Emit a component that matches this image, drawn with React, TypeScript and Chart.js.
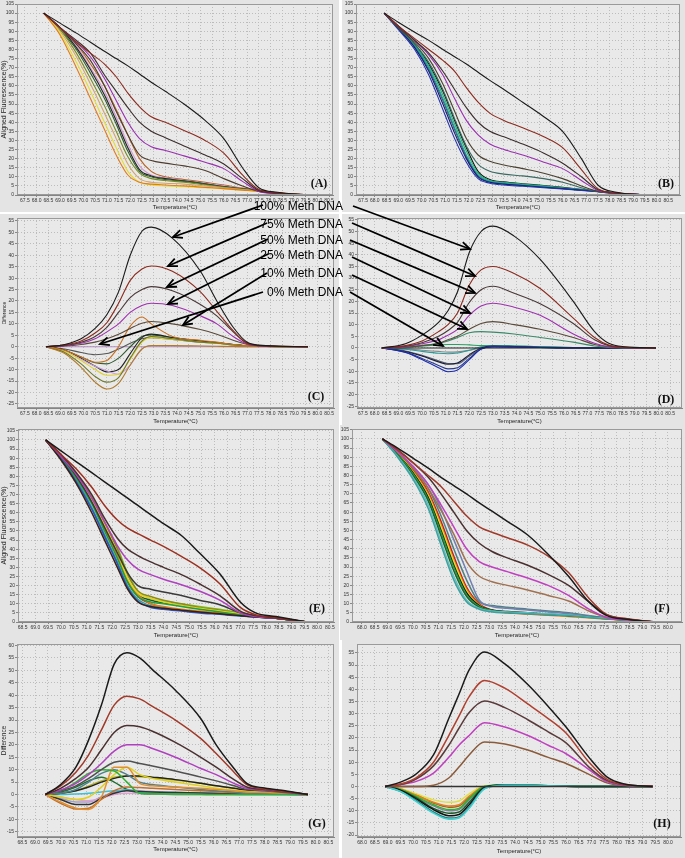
import React, { useEffect, useRef } from "react";
import { Chart, registerables } from "chart.js";

Chart.register(...registerables);

const FONT = "'Liberation Sans', Arial, Helvetica, sans-serif";
const SERIF = "'Liberation Serif', 'Times New Roman', serif";
const PANEL_BG = "#e4e4e4";
const PLOT_BG = "#e9e9e9";
const GRID = "#bcbcbc";

// ---------- tick labels ----------
const X_TICKS_675 = [67.5, 68.0, 68.5, 69.0, 69.5, 70.0, 70.5, 71.0, 71.5, 72.0, 72.5, 73.0, 73.5, 74.0, 74.5, 75.0, 75.5, 76.0, 76.5, 77.0, 77.5, 78.0, 78.5, 79.0, 79.5, 80.0, 80.5];
const X_TICKS_685 = [68.5, 69.0, 69.5, 70.0, 70.5, 71.0, 71.5, 72.0, 72.5, 73.0, 73.5, 74.0, 74.5, 75.0, 75.5, 76.0, 76.5, 77.0, 77.5, 78.0, 78.5, 79.0, 79.5, 80.0, 80.5];
const X_TICKS_680 = [68.0, 68.5, 69.0, 69.5, 70.0, 70.5, 71.0, 71.5, 72.0, 72.5, 73.0, 73.5, 74.0, 74.5, 75.0, 75.5, 76.0, 76.5, 77.0, 77.5, 78.0, 78.5, 79.0, 79.5, 80.0];
const Y_TICKS_FLUOR = [0, 5, 10, 15, 20, 25, 30, 35, 40, 45, 50, 55, 60, 65, 70, 75, 80, 85, 90, 95, 100, 105];
const Y_TICKS_DIFF_CD = [-25, -20, -15, -10, -5, 0, 5, 10, 15, 20, 25, 30, 35, 40, 45, 50, 55];
const Y_TICKS_DIFF_G = [-15, -10, -5, 0, 5, 10, 15, 20, 25, 30, 35, 40, 45, 50, 55, 60];
const Y_TICKS_DIFF_H = [-20, -15, -10, -5, 0, 5, 10, 15, 20, 25, 30, 35, 40, 45, 50, 55];

// ---------- panel A (aligned fluorescence) ----------
const A_X = [68.3, 69.0, 69.7, 70.3, 70.9, 71.4, 71.9, 72.4, 72.9, 73.5, 74.3, 75.2, 76.0, 76.8, 77.5, 78.3, 79.6];
const A_M100 = [100, 94.5, 89, 84, 79, 75, 71, 66.5, 62, 57, 50, 41, 31, 15, 4, 1.5, 0];
const A_M75 = [100, 92, 84, 78, 72, 65, 56, 48.5, 43, 40, 35.5, 30, 23, 11, 3, 1.2, 0];
const A_M50 = [100, 92, 85, 78, 66, 57, 48, 40, 35, 31.5, 27, 22, 17, 9, 2.5, 1, 0];
const A_M25 = [100, 92, 84, 76, 64, 52, 40, 31, 26.5, 24.5, 21.5, 18, 14.5, 7.5, 2, 0.8, 0];
const A_M10 = [100, 92, 83, 74, 60, 46, 33, 22, 19, 17.5, 16, 13.5, 9, 5, 2, 0.8, 0];
const A_S1 = [100, 88, 70, 53, 36, 22, 11, 7, 6, 5.5, 5, 4.2, 3.5, 2.7, 2, 1, 0];
const A_S2 = [100, 89, 73, 57, 40, 26, 13, 7, 5.5, 5, 4.5, 4, 3.3, 2.6, 2, 1, 0];
const A_S3 = [100, 90, 76, 61, 45, 31, 17, 9, 7, 6.5, 6, 5, 4, 3, 2.2, 1, 0];
const A_S4 = [100, 91, 78, 64, 49, 35, 21, 12, 9, 8, 7, 5.5, 4.3, 3.2, 2.3, 1, 0];
const A_S5 = [100, 91, 80, 67, 53, 39, 24, 13, 10, 8.5, 7.5, 6, 4.5, 3.4, 2.4, 1.1, 0];
const A_S6 = [100, 92, 81, 69, 55, 41, 26, 14, 10.5, 9, 7.8, 6.2, 4.6, 3.4, 2.4, 1.1, 0];
const A_S7 = [100, 92, 82, 70, 57, 43, 28, 16, 11, 9.5, 8, 6.5, 5, 3.5, 2.5, 1.1, 0];
const A_S8 = [100, 92, 83, 72, 60, 47, 33, 20, 13, 10, 8.5, 7, 5.5, 3.8, 2.6, 1.2, 0];

// ---------- panel B ----------
const B_X = [68.4, 69.0, 69.7, 70.3, 70.9, 71.4, 71.9, 72.4, 72.9, 73.5, 74.3, 75.2, 76.0, 76.8, 77.5, 78.3, 79.8];
const B_M100 = [100, 95, 89.5, 85, 80, 76, 72, 67.5, 63, 58, 51, 43, 35, 20, 5.5, 1.5, 0];
const B_M75 = [100, 93, 86, 80, 74, 68, 59, 51, 45, 41, 37, 32, 26, 14, 3.5, 1.2, 0];
const B_M50 = [100, 93, 85, 78, 68, 58, 48, 40, 35, 32, 28, 23, 17.5, 10, 3, 1, 0];
const B_M25 = [100, 93, 85, 77, 66, 53, 41, 33, 28, 25, 22, 18, 14.5, 8, 2.5, 1, 0];
const B_M10 = [100, 92, 84, 75, 61, 46, 31, 22, 18.5, 16.5, 14.5, 12, 9, 5, 2, 0.8, 0];
const B_M5 = [100, 92, 83, 73, 58, 42, 27, 17, 13, 11.5, 10.5, 9, 7, 4, 1.8, 0.7, 0];
const B_S1 = [100, 91, 80, 66, 47, 31, 18, 9, 6.5, 5.5, 4.8, 4, 3.3, 2.5, 1.8, 1, 0];
const B_S2 = [100, 91.5, 81, 68, 50, 34, 20, 10, 7, 6, 5.2, 4.3, 3.5, 2.7, 1.9, 1, 0];
const B_S3 = [100, 92, 82, 70, 53, 37, 22, 11, 7.5, 6.5, 5.5, 4.6, 3.7, 2.8, 2, 1, 0];
const B_S4 = [100, 92, 82.5, 71, 55, 39, 24, 12, 8, 7, 6, 5, 4, 3, 2, 1, 0];
const B_S5 = [100, 92.5, 83, 72, 57, 41, 26, 13, 8.5, 7.2, 6.2, 5.2, 4.2, 3.1, 2.1, 1, 0];
const B_S6 = [100, 92, 81.5, 69, 52, 36, 21, 10.5, 7.2, 6.2, 5.3, 4.4, 3.6, 2.7, 1.9, 1, 0];

// ---------- panel C (difference) ----------
const C_X = [68.4, 69.2, 69.9, 70.5, 71.0, 71.5, 72.0, 72.5, 72.9, 73.8, 75.0, 75.7, 76.4, 77.0, 77.8, 79.6];
const C_M100 = [0, 1, 3.5, 8, 14, 24, 40, 50.5, 52.3, 47.5, 33, 20, 8.5, 2, 0.5, 0];
const C_M75 = [0, 0.8, 2.5, 6, 10.5, 19, 29, 34, 35.3, 33, 24, 15.5, 7, 1.5, 0.4, 0];
const C_M50 = [0, 0.6, 2, 4.5, 8.5, 15, 21.5, 25, 26.3, 24.5, 18.5, 13.5, 6.5, 1.5, 0.3, 0];
const C_M25 = [0, 0.5, 1.5, 3.5, 6.5, 10, 15, 18, 19, 18, 13.5, 10, 4.5, 1.2, 0.3, 0];
const C_M10 = [0, 0.3, 1, 2, 3.5, 5.5, 8, 10.3, 11, 10, 7.5, 5.5, 2.8, 1, 0.3, 0];
const C_O = [0, -1.5, -4.5, -6.8, -6, 0, 9, 13, 10, 4.5, 2.8, 2, 1, 0.5, 0.2, 0];
const C_N1 = [0, -3, -9, -15.5, -18.5, -16, -8, -1, 0.5, 0.5, 0.3, 0.2, 0.1, 0, 0, 0];
const C_N2 = [0, -2.5, -7.5, -13, -15.5, -13.5, -5, 2.5, 4.5, 3.5, 2, 1.5, 0.8, 0.3, 0.1, 0];
const C_N3 = [0, -2, -6, -10, -12.5, -12, -5.5, 2, 4, 3.2, 2, 1.4, 0.8, 0.3, 0.1, 0];
const C_N4 = [0, -2, -5.5, -8.5, -10.5, -12, -8, -1, 0.5, 0.4, 0.2, 0.1, 0, 0, 0, 0];
const C_N5 = [0, -1.5, -5, -8.5, -11, -10, -3, 4, 5.5, 4, 2.5, 1.8, 1, 0.4, 0.1, 0];
const C_N6 = [0, -1.5, -4.5, -7, -7.5, -5, 0, 4.5, 5.2, 4, 2.5, 1.8, 1, 0.4, 0.1, 0];
const C_N7 = [0, -1, -2.5, -3.5, -3, -1, 1.5, 3.5, 4, 3.2, 2, 1.5, 0.8, 0.3, 0.1, 0];
const C_ZERO = [0, 0, 0, 0, 0, 0, 0, 0, 0, 0, 0, 0, 0, 0, 0, 0];

// ---------- panel D ----------
const D_X = [68.3, 69.3, 70.0, 70.7, 71.1, 71.5, 72.0, 72.5, 73.0, 73.9, 75.0, 76.4, 77.3, 77.9, 78.6, 79.9];
const D_M100 = [0, 1.8, 5.5, 11, 16, 24, 41, 50, 52.3, 48, 38, 20, 7, 2, 0.5, 0];
const D_M75 = [0, 1, 3, 7, 10, 15, 27, 33.5, 35, 32, 25.5, 12.8, 4.5, 1.2, 0.3, 0];
const D_M50 = [0, 0.7, 2.2, 5, 7.5, 11, 19.5, 25, 26.5, 23.5, 19, 10.5, 3.5, 1, 0.2, 0];
const D_M25 = [0, 0.5, 1.8, 3.5, 5.5, 8, 14, 18, 19.2, 17.5, 14, 6, 2, 0.5, 0.1, 0];
const D_M10 = [0, 0.3, 1, 2, 3.5, 5, 8, 10.5, 11.3, 10, 8, 4.5, 1.5, 0.5, 0.1, 0];
const D_T = [0, 0.3, 1, 2, 3, 4.5, 6.5, 7, 6.8, 6, 4.5, 2.5, 0.8, 0.2, 0, 0];
const D_N1 = [0, -2, -5, -8.5, -10.2, -9.5, -5, -0.5, 0.5, 0.4, 0.2, 0, 0, 0, 0, 0];
const D_N2 = [0, -1.8, -4.5, -7.5, -9, -8.5, -4.5, -0.5, 0.5, 0.4, 0.2, 0, 0, 0, 0, 0];
const D_N3 = [0, -1.5, -3.5, -6, -7, -6.5, -3, 0, 0.8, 0.6, 0.3, 0.1, 0, 0, 0, 0];
const D_N4 = [0, -1.3, -3.2, -5.5, -6.7, -6.8, -3.5, -0.5, 0.5, 0.4, 0.2, 0.1, 0, 0, 0, 0];
const D_N5 = [0, -0.6, -1.5, -2.3, -2.5, -2.2, -1, 0.5, 1, 0.8, 0.5, 0.2, 0.1, 0, 0, 0];
const D_N6 = [0, 0.3, 0.8, 1.3, 1.5, 1.5, 1.3, 1, 1, 0.8, 0.5, 0.2, 0.1, 0, 0, 0];
const D_N7 = [0, -0.4, -1, -1.5, -1.8, -1.7, -1, 0, 0.5, 0.5, 0.3, 0.1, 0, 0, 0, 0];
const D_ZERO = [0, 0, 0, 0, 0, 0, 0, 0, 0, 0, 0, 0, 0, 0, 0, 0];

// ---------- panel E ----------
const E_X = [69.4, 70.0, 70.6, 71.2, 71.7, 72.2, 72.6, 73.0, 73.5, 74.0, 74.7, 75.4, 76.2, 77.0, 77.6, 78.4, 79.6];
const E_M100 = [100, 94, 88, 82, 77, 72, 68, 64, 59, 54, 47.5, 38, 26.5, 11, 5, 3, 0];
const E_M75 = [100, 92, 84, 74, 64, 56, 51.5, 48.5, 45, 41.5, 36, 30, 21, 8, 4, 2.5, 0];
const E_M50 = [100, 92, 82, 70, 57, 46, 40, 36.5, 33, 30, 26, 21, 14.5, 6, 3.5, 2.2, 0];
const E_M25 = [100, 91, 81, 68, 55, 42, 34, 29, 26, 23.5, 20.5, 17, 12, 5, 3, 2, 0];
const E_M10 = [100, 91, 80, 66, 52, 38, 27, 20, 18, 16.5, 14.5, 12, 9.5, 5, 3, 2, 0];
const E_S1 = [100, 89, 76, 60, 45, 30, 18, 11, 8.5, 7.5, 6.5, 5.5, 4.5, 3.5, 2.8, 2, 0];
const E_S2 = [100, 89.5, 77, 62, 47, 32, 19, 11.5, 8, 7, 6, 5, 4.2, 3.3, 2.7, 2, 0];
const E_S3 = [100, 90, 79, 65, 50, 35, 22, 14, 11, 10, 8.5, 7, 5.5, 4, 3, 2, 0];
const E_S4 = [100, 90.5, 80, 67, 53, 38, 24, 16, 13, 11, 9, 7.5, 6, 4.5, 3.2, 2, 0];
const E_S5 = [100, 91, 81, 68, 54, 40, 26, 17, 14, 12, 10, 8, 6.5, 4.8, 3.4, 2.1, 0];
const E_S6 = [100, 90, 79, 66, 51, 36, 23, 15, 10, 8.5, 7, 6, 5, 3.8, 3, 2, 0];
const E_S7 = [100, 89.5, 78, 63, 48, 33, 20, 12.5, 9, 7.8, 6.5, 5.5, 4.5, 3.5, 2.8, 2, 0];
const E_S8 = [100, 90.5, 80, 66, 52, 37, 23, 15, 12, 10.5, 9, 7.5, 6, 4.5, 3.2, 2, 0];
const E_S9 = [100, 90, 80, 66, 51, 36, 22, 14, 10, 8, 6.5, 5.5, 4.8, 3.8, 3, 2.2, 0];
const E_S10 = [100, 91, 81, 69, 55, 41, 27, 17, 13, 11.5, 10, 8.5, 7, 5, 3.5, 2.2, 0];

// ---------- panel F ----------
const F_X = [68.8, 69.4, 70.0, 70.6, 71.1, 71.6, 72.1, 72.6, 73.1, 73.7, 74.5, 75.3, 76.1, 76.9, 77.6, 78.4, 79.5];
const F_M100 = [100, 95, 89.5, 84, 79, 74.5, 70, 65, 60.5, 55, 47.5, 37, 25, 11, 3.5, 1.5, 0];
const F_M75 = [100, 94, 87, 80, 74, 66, 58, 52, 49, 46, 42, 36, 27, 13, 4, 1.8, 0];
const F_M50 = [100, 94, 87, 79, 70, 60, 50, 43, 38.5, 35, 31, 26, 20, 11, 4, 1.6, 0];
const F_M25 = [100, 93, 85, 75, 64, 52, 40, 33, 30, 27.5, 24, 20, 14.5, 7, 2.5, 1.2, 0];
const F_M10 = [100, 93, 84, 73, 61, 48, 33, 25, 22, 20, 17.5, 14.5, 11.5, 6, 2.5, 1.2, 0];
const F_S1 = [100, 90, 78, 62, 42, 23, 11, 7, 5.5, 5, 4.5, 4, 3.5, 2.5, 1.8, 1, 0];
const F_S2 = [100, 90.5, 79, 64, 44, 25, 12, 7.5, 6, 5.5, 5, 4.5, 3.8, 2.8, 2, 1, 0];
const F_S3 = [100, 91, 80, 66, 47, 28, 14, 8, 6, 5.2, 4.6, 4, 3.4, 2.6, 1.8, 1, 0];
const F_S4 = [100, 91.5, 81, 67, 49, 30, 15, 8.5, 6.3, 5.5, 4.8, 4.2, 3.5, 2.7, 1.9, 1, 0];
const F_S5 = [100, 91.5, 81.5, 68, 50, 31, 16, 9, 6.5, 5.8, 5, 4.3, 3.6, 2.8, 2, 1, 0];
const F_S6 = [100, 92, 82, 69, 52, 33, 17, 9, 6.2, 5.4, 4.6, 4, 3.3, 2.5, 1.8, 1, 0];
const F_S7 = [100, 92, 82.5, 70, 53, 34, 18, 9.5, 6, 5, 4.3, 3.7, 3, 2.3, 1.6, 0.9, 0];
const F_S8 = [100, 92, 83, 71, 55, 36, 19, 10, 6.5, 5.5, 4.8, 4, 3.3, 2.5, 1.8, 1, 0];
const F_S9 = [100, 93, 85, 75, 62, 45, 28, 12, 8.5, 7.5, 6.5, 5.5, 4.5, 3.3, 2.2, 1.1, 0];
const F_S10 = [100, 92.5, 84, 73, 58, 40, 23, 11, 9, 8, 7, 6, 5, 3.5, 2.3, 1.2, 0];

// ---------- panel G ----------
const G_X = [69.4, 70.0, 70.6, 71.1, 71.6, 72.1, 72.6, 73.1, 73.6, 74.5, 75.5, 76.1, 76.8, 77.3, 78.0, 78.8, 79.7];
const G_M100 = [0, 4, 11, 22, 36, 52.5, 57.1, 55, 50.3, 42, 30.5, 20, 10.5, 4.5, 2.6, 1.5, 0];
const G_M75 = [0, 3.5, 9, 16, 26, 36, 39.6, 38.5, 35.5, 30, 22.5, 16.5, 9, 4, 2.2, 1.2, 0];
const G_M50 = [0, 2.5, 6.5, 11, 18, 25, 27.8, 27.3, 25.5, 21, 15, 11, 6, 3, 2, 1.1, 0];
const G_M25 = [0, 1.8, 4.5, 8, 12.5, 17.5, 20, 20, 18.5, 15, 10.5, 8, 4.5, 2.5, 1.8, 1, 0];
const G_M10 = [0, 1.5, 3.5, 6.5, 10, 13, 13.5, 12.5, 11.5, 9.5, 7, 5.5, 3.5, 2, 1.5, 0.8, 0];
const G_S1 = [0, 1.5, 5, 8.5, 10, 9.5, 5, 0.5, 0.3, 0.2, 0.1, 0, 0, 0, 0, 0, 0];
const G_S2 = [0, -3, -5.5, -6, -1, 11, 11, 4.5, 3.5, 3, 2.5, 2, 1.5, 1, 0.8, 0.4, 0];
const G_S3 = [0, -1, -2, -1, 3, 8, 11, 8, 6.5, 5, 3.5, 2.5, 1.8, 1.2, 1, 0.5, 0];
const G_S4 = [0, 0.5, 2, 5, 8.5, 10, 8, 5, 4, 3, 2, 1.5, 1, 0.6, 0.4, 0.2, 0];
const G_S5 = [0, 0.5, 1.5, 3, 5, 6.5, 7.5, 7.5, 7, 6, 4.5, 3.5, 2.5, 1.8, 1.3, 0.8, 0];
const G_S6 = [0, 0.5, 1.5, 3.5, 5.5, 7, 7.5, 7.2, 6.8, 5.8, 4.5, 3.5, 2.5, 1.8, 1.3, 0.8, 0];
const G_S7 = [0, -3.5, -5.8, -5.5, -2, 1.5, 3, 2.8, 2.5, 2, 1.5, 1.2, 0.8, 0.5, 0.3, 0.2, 0];
const G_S8 = [0, -2, -4, -4, -1.5, 0.5, 1.5, 1.2, 1, 0.8, 0.6, 0.5, 0.4, 0.3, 0.2, 0.1, 0];
const G_S9 = [0, 0, 0.2, 0.5, 1, 1.5, 1.8, 0.8, 0.5, 0.4, 0.3, 0.2, 0.1, 0, 0, 0, 0];
const G_S10 = [0, -1, -2, -2.5, -1.5, 0, 0.5, 0.4, 0.3, 0.2, 0.1, 0, 0, 0, 0, 0, 0];
const G_S11 = [0, 1, 3, 5.5, 7, 5, 2, 0.5, 0.2, 0, 0, 0, 0, 0, 0, 0, 0];
const G_S12 = [0, -1.5, -3, -3, -1, 1, 2, 1.5, 1.2, 0.9, 0.6, 0.4, 0.3, 0.2, 0.1, 0, 0];

// ---------- panel H ----------
const H_X = [68.9, 69.5, 70.1, 70.8, 71.4, 71.8, 72.2, 72.8, 73.6, 74.5, 75.3, 76.0, 76.9, 77.6, 78.3, 79.4];
const H_M100 = [0, 1.8, 5, 13, 28, 38, 48, 55.4, 50.5, 42, 33, 24.5, 12, 4, 1, 0];
const H_M75 = [0, 1, 3.5, 10, 21, 29, 37, 43.7, 40.5, 34, 28, 22, 10, 3, 0.8, 0];
const H_M50 = [0, 0.8, 3, 8.5, 17, 24, 30.5, 35.2, 32.5, 27.5, 22.5, 18, 8, 2.5, 0.7, 0];
const H_M25 = [0, 0.8, 2, 5.5, 12, 17, 21, 26.3, 24.5, 21, 17, 13.5, 7, 2, 0.5, 0];
const H_M10 = [0, 0, 0, 0.5, 3.5, 8, 13, 18.3, 17.5, 15, 12, 9.5, 5, 1.5, 0.4, 0];
const H_ZERO = [0, 0, 0, 0, 0, 0, 0, 0, 0, 0, 0, 0, 0, 0, 0, 0];
const H_N1 = [0, -2, -6, -11, -13.5, -13, -9, -1, 0.5, 0.5, 0.3, 0.1, 0, 0, 0, 0];
const H_N2 = [0, -2, -5.5, -10.5, -13, -12.5, -8.5, -0.8, 0.5, 0.5, 0.3, 0.1, 0, 0, 0, 0];
const H_N3 = [0, -1.5, -5, -9.5, -12, -11.5, -7.5, -0.5, 0.6, 0.5, 0.3, 0.1, 0, 0, 0, 0];
const H_N4 = [0, -1.5, -4.5, -9, -11, -10.5, -6.5, -0.3, 0.6, 0.5, 0.3, 0.1, 0, 0, 0, 0];
const H_N5 = [0, -1.2, -4, -7.5, -9.5, -9, -5, 0, 0.7, 0.5, 0.3, 0.1, 0, 0, 0, 0];
const H_N6 = [0, -1.3, -4.2, -8, -10, -9.5, -5.5, -0.2, 0.5, 0.4, 0.3, 0.1, 0, 0, 0, 0];
const H_N7 = [0, -1, -3.5, -6.5, -8, -7.5, -4, 0, 0.5, 0.4, 0.3, 0.1, 0, 0, 0, 0];
const H_N8 = [0, -0.8, -3, -5.5, -6.5, -6, -3, 0.2, 0.5, 0.4, 0.2, 0.1, 0, 0, 0, 0];
const H_N9 = [0, -1, -3.2, -6.8, -8.5, -8, -4.5, -0.2, 0.4, 0.3, 0.2, 0.1, 0, 0, 0, 0];

// ---------- annotation labels ----------
const METH_LABELS = ["100% Meth DNA", "75% Meth DNA", "50% Meth DNA", "25% Meth DNA", "10% Meth DNA", "0% Meth DNA"];

type Series = { values: number[]; color: string };
type PanelSpec = {
  box: { left: number; top: number; width: number; height: number };
  plot: { l: number; t: number; r: number; b: number };
  xs: number[];
  series: Series[];
  xMin: number; xMax: number; yMin: number; yMax: number;
  xTicks: number[]; yTicks: number[];
  yTitle: string | null; yTitleSize: number; yTitlePad: number;
  xTitle: string | null; xTitlePad: number;
  tag: string; tagX: number; tagY: number;
  lw: number;
};

const s = (values: number[], color: string): Series => ({ values, color });

const PANELS: PanelSpec[] = [
  {
    box: { left: 0, top: 0, width: 339, height: 212 }, plot: { l: 17, t: 2, r: 333, b: 195 },
    xs: A_X,
    series: [s(A_M100, "#1a1a1a"), s(A_M75, "#8b2a1e"), s(A_M50, "#3a2c2c"), s(A_M25, "#9a2fb0"), s(A_M10, "#4d3b2e"),
      s(A_S1, "#e07b20"), s(A_S2, "#e6dc30"), s(A_S3, "#d2a468"), s(A_S4, "#7a8a22"), s(A_S5, "#2f5f2f"), s(A_S6, "#222222"), s(A_S7, "#d49ad0"), s(A_S8, "#b8642a")],
    xMin: 67.16, xMax: 80.67, yMin: 0, yMax: 105, xTicks: X_TICKS_675, yTicks: Y_TICKS_FLUOR,
    yTitle: "Aligned Fluorescence(%)", yTitleSize: 7, yTitlePad: 0, xTitle: "Temperature(°C)", xTitlePad: 1.4,
    tag: "(A)", tagX: 319, tagY: 183, lw: 1.1,
  },
  {
    box: { left: 342, top: 0, width: 343, height: 212 }, plot: { l: 14, t: 2, r: 338, b: 195 },
    xs: B_X,
    series: [s(B_M100, "#1a1a1a"), s(B_M75, "#8b2a1e"), s(B_M50, "#3a2c2c"), s(B_M25, "#9a2fb0"), s(B_M10, "#4a4030"), s(B_M5, "#3a6a60"),
      s(B_S1, "#2233aa"), s(B_S2, "#1a1a70"), s(B_S3, "#1a9a9a"), s(B_S4, "#20b070"), s(B_S5, "#111111"), s(B_S6, "#405070")],
    xMin: 67.2, xMax: 81.0, yMin: 0, yMax: 105, xTicks: X_TICKS_675, yTicks: Y_TICKS_FLUOR,
    yTitle: null, yTitleSize: 7, yTitlePad: 0, xTitle: "Temperature(°C)", xTitlePad: 1.4,
    tag: "(B)", tagX: 666, tagY: 183, lw: 1.1,
  },
  {
    box: { left: 0, top: 214, width: 339, height: 211 }, plot: { l: 17, t: 2, r: 334, b: 194 },
    xs: C_X,
    series: [s(C_M100, "#1a1a1a"), s(C_M75, "#8b2a1e"), s(C_M50, "#4a3838"), s(C_M25, "#a030b0"), s(C_M10, "#5a4a3a"), s(C_O, "#c87020"),
      s(C_N1, "#b07a28"), s(C_N2, "#6f7a2a"), s(C_N3, "#e0d030"), s(C_N4, "#c8a0d8"), s(C_N5, "#222222"), s(C_N6, "#2f5a30"), s(C_N7, "#555555"), s(C_ZERO, "#b48cc0")],
    xMin: 67.16, xMax: 80.71, yMin: -26.8, yMax: 56.3, xTicks: X_TICKS_675, yTicks: Y_TICKS_DIFF_CD,
    yTitle: "Difference", yTitleSize: 5, yTitlePad: 2, xTitle: "Temperature(°C)", xTitlePad: 0,
    tag: "(C)", tagX: 316, tagY: 396, lw: 1.1,
  },
  {
    box: { left: 342, top: 214, width: 343, height: 211 }, plot: { l: 15, t: 1, r: 340, b: 194 },
    xs: D_X,
    series: [s(D_M100, "#1a1a1a"), s(D_M75, "#8b2a1e"), s(D_M50, "#4a3838"), s(D_M25, "#a030b0"), s(D_M10, "#5a4a3a"), s(D_T, "#3a8a6a"),
      s(D_ZERO, "#222222"), s(D_N1, "#1a2ab0"), s(D_N2, "#2a3a8a"), s(D_N3, "#1a1a3a"), s(D_N4, "#556070"), s(D_N5, "#2a9a9a"), s(D_N6, "#2aa060"), s(D_N7, "#888888")],
    xMin: 67.25, xMax: 81.0, yMin: -25.8, yMax: 55.8, xTicks: X_TICKS_675, yTicks: Y_TICKS_DIFF_CD,
    yTitle: null, yTitleSize: 5, yTitlePad: 0, xTitle: "Temperature(°C)", xTitlePad: 0,
    tag: "(D)", tagX: 666, tagY: 399, lw: 1.1,
  },
  {
    box: { left: 0, top: 425, width: 339, height: 215 }, plot: { l: 18, t: 3, r: 334, b: 197 },
    xs: E_X,
    series: [s(E_M100, "#1a1a1a"), s(E_M75, "#9b3020"), s(E_M50, "#4a3030"), s(E_M25, "#b040c0"), s(E_M10, "#3a3a3a"),
      s(E_S1, "#3a2010"), s(E_S2, "#3050c0"), s(E_S3, "#20a040"), s(E_S4, "#e8d020"), s(E_S5, "#8a8a20"), s(E_S6, "#e08020"), s(E_S7, "#30a0a0"), s(E_S8, "#1a5a2a"), s(E_S9, "#d02020"), s(E_S10, "#80c020")],
    xMin: 68.32, xMax: 80.66, yMin: 0, yMax: 106, xTicks: X_TICKS_685, yTicks: Y_TICKS_FLUOR,
    yTitle: "Aligned Fluorescence(%)", yTitleSize: 7, yTitlePad: 0, xTitle: "Temperature(°C)", xTitlePad: 1.4,
    tag: "(E)", tagX: 317, tagY: 608, lw: 1.5,
  },
  {
    box: { left: 340, top: 425, width: 345, height: 215 }, plot: { l: 12, t: 2, r: 342, b: 197 },
    xs: F_X,
    series: [s(F_M100, "#1a1a1a"), s(F_M75, "#a03a2a"), s(F_M50, "#4a3030"), s(F_M25, "#c040c0"), s(F_M10, "#a07050"),
      s(F_S1, "#40a0a0"), s(F_S2, "#60c0c0"), s(F_S3, "#206030"), s(F_S4, "#20a040"), s(F_S5, "#111111"), s(F_S6, "#e8e020"), s(F_S7, "#e07020"), s(F_S8, "#c02020"), s(F_S9, "#7080b0"), s(F_S10, "#508080")],
    xMin: 67.61, xMax: 80.55, yMin: 0, yMax: 105.4, xTicks: X_TICKS_680, yTicks: Y_TICKS_FLUOR,
    yTitle: null, yTitleSize: 7, yTitlePad: 0, xTitle: "Temperature(°C)", xTitlePad: 1.4,
    tag: "(F)", tagX: 662, tagY: 608, lw: 1.5,
  },
  {
    box: { left: 0, top: 640, width: 339, height: 218 }, plot: { l: 17, t: 2, r: 334, b: 197 },
    xs: G_X,
    series: [s(G_M100, "#1a1a1a"), s(G_M75, "#a03a2a"), s(G_M50, "#4a3030"), s(G_M25, "#b040c0"), s(G_M10, "#505050"),
      s(G_S1, "#30b030"), s(G_S2, "#e09030"), s(G_S3, "#e0d020"), s(G_S4, "#508090"), s(G_S5, "#222222"), s(G_S6, "#b0b020"), s(G_S7, "#c07030"), s(G_S8, "#333333"), s(G_S9, "#40c0d0"), s(G_S10, "#e0a0d0"), s(G_S11, "#207030"), s(G_S12, "#a0a0d0")],
    xMin: 68.29, xMax: 80.72, yMin: -17.1, yMax: 60.6, xTicks: X_TICKS_685, yTicks: Y_TICKS_DIFF_G,
    yTitle: "Difference", yTitleSize: 6.5, yTitlePad: 0, xTitle: "Temperature(°C)", xTitlePad: 5.4,
    tag: "(G)", tagX: 317, tagY: 823, lw: 1.5,
  },
  {
    box: { left: 342, top: 640, width: 343, height: 218 }, plot: { l: 15, t: 2, r: 339, b: 197 },
    xs: H_X,
    series: [s(H_M100, "#1a1a1a"), s(H_M75, "#b04030"), s(H_M50, "#5a3a3a"), s(H_M25, "#c040c0"), s(H_M10, "#8a5a3a"), s(H_ZERO, "#333333"),
      s(H_N1, "#40d0d0"), s(H_N2, "#208080"), s(H_N3, "#111111"), s(H_N4, "#1a5a2a"), s(H_N5, "#30b030"), s(H_N6, "#8080a0"), s(H_N7, "#e08020"), s(H_N8, "#e0e040"), s(H_N9, "#a06020")],
    xMin: 67.8, xMax: 80.51, yMin: -20.8, yMax: 58.7, xTicks: X_TICKS_680, yTicks: Y_TICKS_DIFF_H,
    yTitle: null, yTitleSize: 6, yTitlePad: 0, xTitle: "Temperature(°C)", xTitlePad: 3.4,
    tag: "(H)", tagX: 662, tagY: 823, lw: 1.5,
  },
];

// arrow annotation geometry (page pixels): label anchor y, left target, right target
const LABEL_Y = [206, 223.5, 239.5, 254.5, 272.5, 292];
const LEFT_FROM = [[263, 205], [267, 223], [268, 239], [268, 254], [267, 273], [263, 292]];
const LEFT_TO = [[173, 237], [168, 266], [167, 287], [168, 304], [183, 325], [100, 344]];
const RIGHT_FROM = [[353, 206], [352, 223], [350, 240], [352, 257], [352, 275], [350, 292]];
const RIGHT_TO = [[470, 249], [475, 276], [475, 293], [470, 313], [467, 329], [443, 346]];

const framePlugin = {
  id: "frame",
  beforeDraw(chart: any) {
    const { ctx, chartArea: a } = chart;
    ctx.save();
    ctx.fillStyle = PLOT_BG;
    ctx.fillRect(a.left, a.top, a.right - a.left, a.bottom - a.top);
    ctx.restore();
  },
  afterDraw(chart: any) {
    const { ctx, chartArea: a } = chart;
    ctx.save();
    ctx.strokeStyle = "#9a9a9a";
    ctx.lineWidth = 1;
    ctx.strokeRect(Math.round(a.left) + 0.5, Math.round(a.top) + 0.5, Math.round(a.right - a.left) - 1, Math.round(a.bottom - a.top) - 1);
    ctx.restore();
  },
};

function buildConfig(p: PanelSpec): any {
  return {
    type: "line",
    data: {
      datasets: p.series.map((sr, k) => ({
        label: "s" + k,
        data: p.xs.map((x, i) => ({ x, y: sr.values[i] })),
        borderColor: sr.color,
        backgroundColor: sr.color,
        borderWidth: p.lw,
        pointRadius: 0,
        fill: false,
        cubicInterpolationMode: "monotone",
      })),
    },
    options: {
      animation: false,
      responsive: false,
      devicePixelRatio: 1,
      events: [],
      layout: { autoPadding: false, padding: { left: 0, top: p.plot.t, right: p.box.width - p.plot.r, bottom: 0 } },
      plugins: { legend: { display: false }, tooltip: { enabled: false }, title: { display: false } },
      scales: {
        x: {
          type: "linear",
          min: p.xMin,
          max: p.xMax,
          afterFit: (sc: any) => { sc.height = p.box.height - p.plot.b; },
          afterBuildTicks: (sc: any) => { sc.ticks = p.xTicks.map((v) => ({ value: v })); },
          ticks: {
            autoSkip: false, maxRotation: 0, minRotation: 0, padding: 1, color: "#333",
            font: { size: 5, family: FONT },
            callback: (v: any) => Number(v).toFixed(1),
          },
          grid: { color: GRID, lineWidth: 1, drawTicks: true, tickLength: 2, tickColor: "#888" },
          border: { display: true, color: "#858585", dash: [1, 2] },
          title: p.xTitle
            ? { display: true, text: p.xTitle, color: "#222", font: { size: 6, family: FONT }, padding: { top: 0, bottom: p.xTitlePad } }
            : { display: false },
        },
        y: {
          type: "linear",
          min: p.yMin,
          max: p.yMax,
          afterFit: (sc: any) => { sc.width = p.plot.l; },
          afterBuildTicks: (sc: any) => { sc.ticks = p.yTicks.map((v) => ({ value: v })); },
          ticks: { padding: 1, color: "#333", font: { size: 5, family: FONT }, callback: (v: any) => String(v) },
          grid: { color: GRID, lineWidth: 1, drawTicks: true, tickLength: 2, tickColor: "#888" },
          border: { display: true, color: "#858585", dash: [1, 2] },
          title: p.yTitle
            ? { display: true, text: p.yTitle, color: "#222", font: { size: p.yTitleSize, family: FONT }, padding: { top: p.yTitlePad, bottom: 0 } }
            : { display: false },
        },
      },
    },
    plugins: [framePlugin],
  };
}

function arrowHead(from: number[], to: number[]): string {
  const dx = to[0] - from[0];
  const dy = to[1] - from[1];
  const len = Math.sqrt(dx * dx + dy * dy);
  const ux = dx / len;
  const uy = dy / len;
  const L = 10;
  const ang = 0.42;
  const c = Math.cos(ang);
  const sn = Math.sin(ang);
  const b1x = to[0] - L * (ux * c - uy * sn);
  const b1y = to[1] - L * (uy * c + ux * sn);
  const b2x = to[0] - L * (ux * c + uy * sn);
  const b2y = to[1] - L * (uy * c - ux * sn);
  return `${b1x},${b1y} ${to[0]},${to[1]} ${b2x},${b2y}`;
}

export default function App() {
  const refs = useRef<(HTMLCanvasElement | null)[]>([]);

  useEffect(() => {
    const charts: Chart[] = [];
    PANELS.forEach((p, i) => {
      const cv = refs.current[i];
      if (cv) charts.push(new Chart(cv, buildConfig(p)));
    });
    return () => charts.forEach((c) => c.destroy());
  }, []);

  return (
    <div style={{ position: "absolute", left: 0, top: 0, width: 685, height: 858, background: "#ffffff", overflow: "hidden" }}>
      {PANELS.map((p, i) => (
        <canvas
          key={i}
          ref={(el) => { refs.current[i] = el; }}
          width={p.box.width}
          height={p.box.height}
          style={{ position: "absolute", left: p.box.left, top: p.box.top, width: p.box.width, height: p.box.height, background: PANEL_BG, display: "block" }}
        />
      ))}
      {PANELS.map((p, i) => (
        <div
          key={"tag" + i}
          style={{ position: "absolute", left: p.tagX, top: p.tagY, transform: "translate(-50%, -50%)", fontFamily: SERIF, fontWeight: "bold", fontSize: 12, color: "#111", lineHeight: "12px", whiteSpace: "nowrap" }}
        >
          {p.tag}
        </div>
      ))}
      <svg width={685} height={858} style={{ position: "absolute", left: 0, top: 0, pointerEvents: "none" }}>
        {METH_LABELS.map((t, i) => (
          <g key={"a" + i}>
            <line x1={LEFT_FROM[i][0]} y1={LEFT_FROM[i][1]} x2={LEFT_TO[i][0]} y2={LEFT_TO[i][1]} stroke="#000" strokeWidth={1.8} />
            <polyline points={arrowHead(LEFT_FROM[i], LEFT_TO[i])} fill="none" stroke="#000" strokeWidth={1.8} />
            <line x1={RIGHT_FROM[i][0]} y1={RIGHT_FROM[i][1]} x2={RIGHT_TO[i][0]} y2={RIGHT_TO[i][1]} stroke="#000" strokeWidth={1.8} />
            <polyline points={arrowHead(RIGHT_FROM[i], RIGHT_TO[i])} fill="none" stroke="#000" strokeWidth={1.8} />
            <text x={343} y={LABEL_Y[i]} textAnchor="end" dominantBaseline="central" fontFamily={FONT} fontSize={12} fill="#000">
              {t}
            </text>
          </g>
        ))}
      </svg>
    </div>
  );
}
